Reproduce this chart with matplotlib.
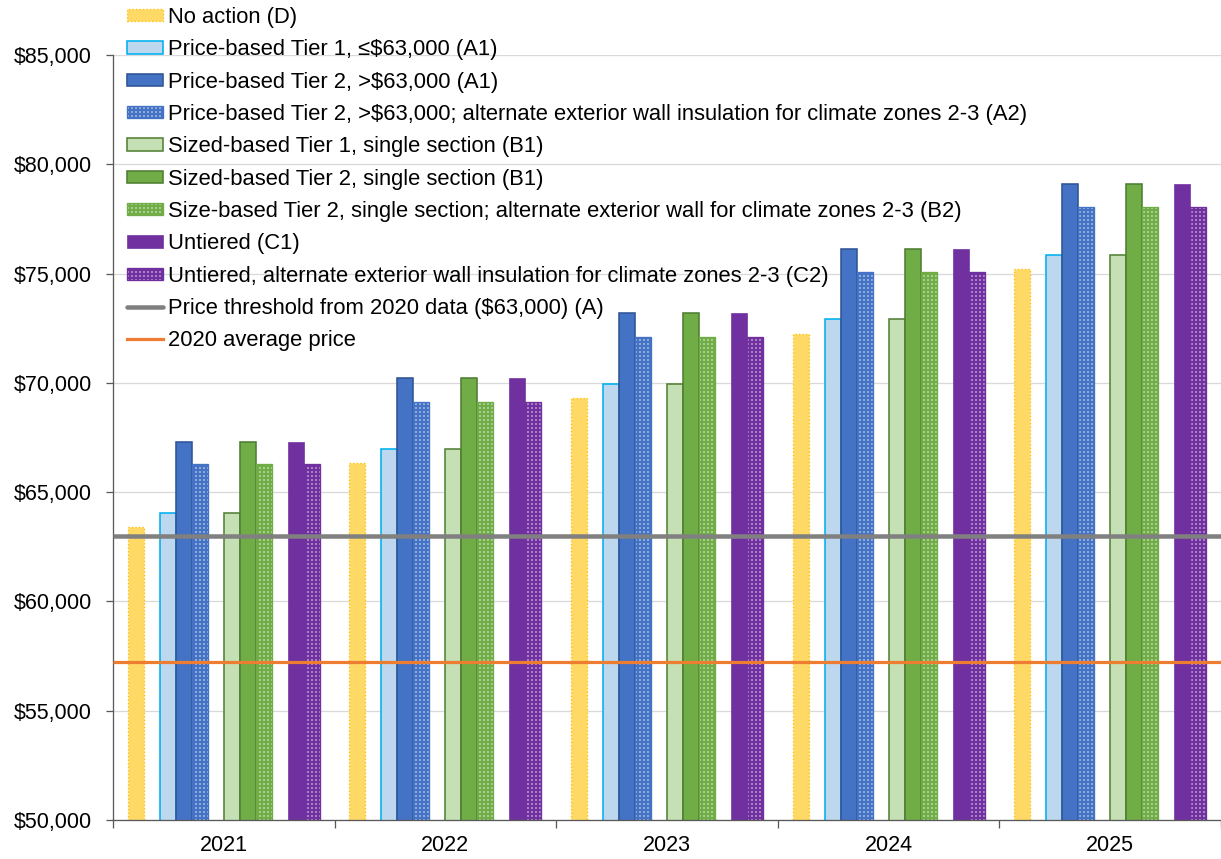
import matplotlib
matplotlib.use("Agg")
import matplotlib.pyplot as plt
from matplotlib.ticker import FixedLocator, FuncFormatter
from matplotlib.lines import Line2D
import numpy as np

# ---- data -------------------------------------------------------------
years = ["2021", "2022", "2023", "2024", "2025"]

no_action = [63400, 66320, 69290, 72240, 75210]
price_tier1 = [64060, 66990, 69950, 72920, 75860]
price_tier2 = [67310, 70210, 73180, 76140, 79110]
price_tier2_alt = [66270, 69140, 72110, 75090, 78030]
size_tier1 = [64060, 66990, 69950, 72920, 75860]
size_tier2 = [67310, 70210, 73180, 76140, 79110]
size_tier2_alt = [66270, 69140, 72110, 75090, 78030]
untiered = [67310, 70210, 73180, 76140, 79110]
untiered_alt = [66270, 69140, 72110, 75090, 78030]

price_threshold_2020 = 63000
average_price_2020 = 57230

labels = [
    "No action (D)",
    "Price-based Tier 1, \u2264$63,000 (A1)",
    "Price-based Tier 2, >$63,000 (A1)",
    "Price-based Tier 2, >$63,000; alternate exterior wall insulation for climate zones 2-3 (A2)",
    "Sized-based Tier 1, single section (B1)",
    "Sized-based Tier 2, single section (B1)",
    "Size-based Tier 2, single section; alternate exterior wall for climate zones 2-3 (B2)",
    "Untiered (C1)",
    "Untiered, alternate exterior wall insulation for climate zones 2-3 (C2)",
    "Price threshold from 2020 data ($63,000) (A)",
    "2020 average price",
]

# ---- style ------------------------------------------------------------
DPI = 96
W, H = 1221, 859


def pt(px):
    return px * 72.0 / DPI


plt.rcParams["font.family"] = ["Liberation Sans", "DejaVu Sans"]
plt.rcParams["hatch.linewidth"] = pt(2.6)

TICK_FS = pt(21.5)
LEG_FS = pt(22)

fig = plt.figure(figsize=(W / DPI, H / DPI), dpi=DPI)
ax = fig.add_axes([113 / W, (H - 820) / H, (W - 113) / W, (820 - 55) / H])

# 12 slots per year (three of them left empty as spacers)
n_slots = 12
gap = 1.85
bw = 1.0 / (n_slots + gap)
x = np.arange(len(years))


def slot_x(i):
    return x - 0.5 + gap * bw / 2 + (i + 0.5) * bw


series = [
    (no_action, 0, dict(facecolor="#ffd966", edgecolor="#ffc000", linewidth=1.0, linestyle=":")),
    (price_tier1, 2, dict(facecolor="#bdd7ee", edgecolor="#00b0f0", linewidth=1.2)),
    (price_tier2, 3, dict(facecolor="#4472c4", edgecolor="#2f5597", linewidth=1.2)),
    (price_tier2_alt, 4, dict(facecolor="white", edgecolor="#4472c4", hatch="++++", linewidth=1.0)),
    (size_tier1, 6, dict(facecolor="#c5e0b4", edgecolor="#548235", linewidth=1.2)),
    (size_tier2, 7, dict(facecolor="#70ad47", edgecolor="#507e32", linewidth=1.2)),
    (size_tier2_alt, 8, dict(facecolor="white", edgecolor="#70ad47", hatch="++++", linewidth=1.0)),
    (untiered, 10, dict(facecolor="#7030a0", edgecolor="#7030a0", linewidth=0.5)),
    (untiered_alt, 11, dict(facecolor="white", edgecolor="#7030a0", hatch="++++", linewidth=1.0)),
]

handles = []
for (vals, slot, style), lab in zip(series, labels):
    bars = ax.bar(slot_x(slot), vals, width=bw, label=lab, zorder=2, **style)
    handles.append(bars)

ax.axhline(price_threshold_2020, color="#808080", linewidth=pt(4.5),
           solid_capstyle="butt", zorder=3, label=labels[9])
ax.axhline(average_price_2020, color="#ed7d31", linewidth=pt(3.2),
           solid_capstyle="butt", zorder=3, label=labels[10])
handles += [
    Line2D([], [], color="#808080", linewidth=pt(4.5), solid_capstyle="round"),
    Line2D([], [], color="#ed7d31", linewidth=pt(3.2)),
]

# ---- axes -------------------------------------------------------------
ax.set_xlim(-0.5, len(years) - 0.5)
ax.set_ylim(50000, 85000)
ax.set_yticks(np.arange(50000, 85001, 5000))
ax.yaxis.set_major_formatter(FuncFormatter(lambda v, p: f"${v:,.0f}"))
ax.yaxis.grid(True, color="#d9d9d9", linewidth=pt(1.3), zorder=0)
ax.set_axisbelow(True)

ax.xaxis.set_major_locator(FixedLocator(np.arange(-0.5, len(years), 1.0)))
ax.xaxis.set_major_formatter(FuncFormatter(lambda v, p: ""))
ax.set_xticks(x, years, minor=True)
ax.tick_params(axis="x", which="major", direction="out", length=pt(8),
               width=pt(1.3), color="#595959")
ax.tick_params(axis="x", which="minor", length=0, pad=pt(15), labelsize=TICK_FS)
ax.tick_params(axis="y", direction="out", length=pt(7), width=pt(1.3),
               color="#595959", pad=pt(14), labelsize=TICK_FS)

for side in ("top", "right"):
    ax.spines[side].set_visible(False)
for side in ("left", "bottom"):
    ax.spines[side].set_color("#595959")
    ax.spines[side].set_linewidth(pt(1.3))

fig.legend(handles, labels, loc="upper left",
           bbox_to_anchor=(127 / W, 1 - 7 / H), frameon=False,
           fontsize=LEG_FS, borderpad=0, borderaxespad=0,
           handlelength=1.65, handleheight=0.48, handletextpad=0.2,
           labelspacing=0.515)

fig.savefig("out.png", dpi=DPI)
